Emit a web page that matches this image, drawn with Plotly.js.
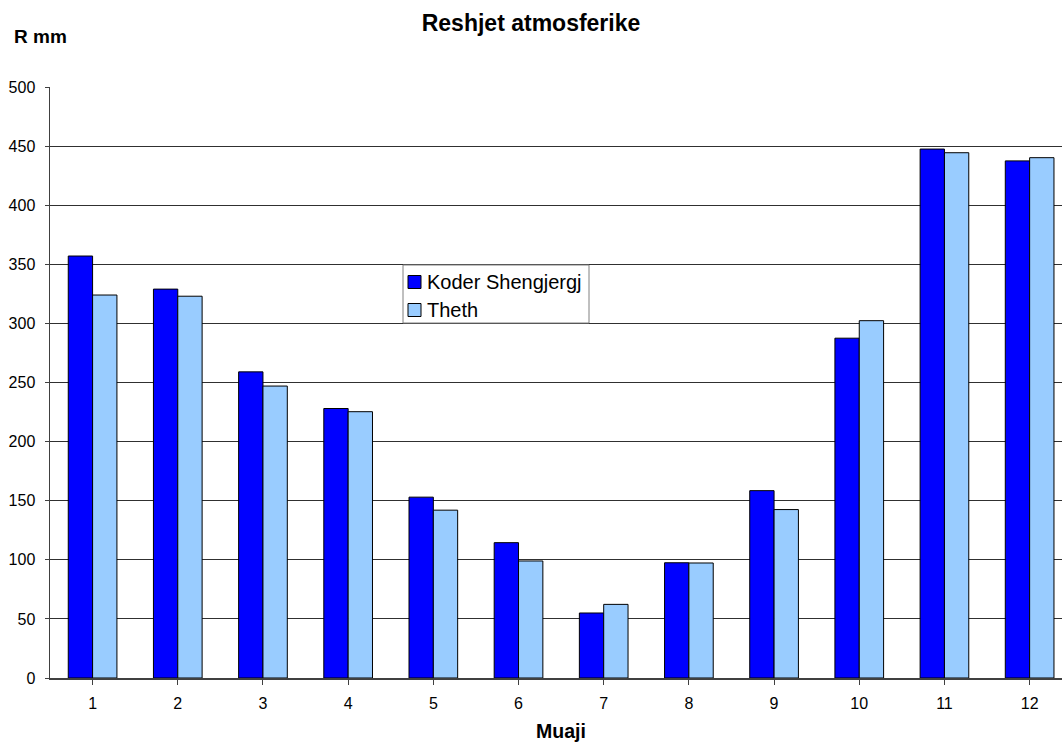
<!DOCTYPE html>
<html>
<head>
<meta charset="utf-8">
<script src="https://cdn.plot.ly/plotly-3.0.1.min.js"></script>
<style>html,body{margin:0;padding:0;background:#fff;}#chart{width:1062px;height:742px;}</style>
</head>
<body>
<div id="chart"></div>
<script>
var months = [1, 2, 3, 4, 5, 6, 7, 8, 9, 10, 11, 12];
var monthLabels = ["1","2","3","4","5","6","7","8","9","10","11","12"];
var koderShengjergj = [357, 329, 259, 228, 153, 114.5, 55, 97.5, 158.5, 287.5, 447.5, 437.5];
var theth = [324, 323, 247, 225.3, 142, 99, 62.3, 97.3, 142.5, 302.3, 444.4, 440.2];
var seriesNames = ["Koder Shengjergj", "Theth"];
var seriesColors = ['#0000FF', '#99CCFF'];

var traces = [
  {type:'bar', x: months, y: koderShengjergj, name: seriesNames[0],
   marker:{color:seriesColors[0], line:{color:'#000000', width:1}}},
  {type:'bar', x: months, y: theth, name: seriesNames[1],
   marker:{color:seriesColors[1], line:{color:'#000000', width:1}}}
];

var font = {family:'"Liberation Sans", Arial, sans-serif', color:'#000'};

// plot area in pixels: x 50..1062 (continues past edge), y 87..678
function px(x){ return (x-50)/1012; }
function py(y){ return (678-y)/591; }

var shapes = [
  {type:'rect', xref:'paper', yref:'paper', x0:px(403), x1:px(589), y0:py(323), y1:py(265),
   fillcolor:'#fff', line:{color:'#808080', width:1}, layer:'above'},
  {type:'rect', xref:'paper', yref:'paper', x0:px(408), x1:px(421), y0:py(288.5), y1:py(275.5),
   fillcolor:seriesColors[0], line:{color:'#000', width:1}, layer:'above'},
  {type:'rect', xref:'paper', yref:'paper', x0:px(408), x1:px(421), y0:py(316.5), y1:py(303.5),
   fillcolor:seriesColors[1], line:{color:'#000', width:1}, layer:'above'}
];

var layout = {
  width:1062, height:742,
  margin:{l:50, r:0, t:87, b:64, pad:0},
  paper_bgcolor:'#fff', plot_bgcolor:'#fff',
  font: Object.assign({size:16}, font),
  barmode:'group', bargap:0.4286, bargroupgap:0,
  showlegend:false,
  title:{text:'<b>Reshjet atmosferike</b>', xref:'container', x:0.5, xanchor:'center',
    yref:'container', y:1-23/742, yanchor:'middle', font:Object.assign({size:23}, font)},
  xaxis:{
    range:[0.5, 12.38], tickmode:'array', tickvals: months, ticktext: monthLabels,
    tickson:'boundaries', ticks:'outside', ticklen:5, tickcolor:'#404040',
    showline:true, linecolor:'#404040', linewidth:1.5, showgrid:false, zeroline:false,
    tickfont:Object.assign({size:16}, font), fixedrange:true, ticklabelstandoff:5
  },
  yaxis:{
    range:[0, 500], dtick:50, ticks:'outside', ticklen:4, tickcolor:'#404040',
    showline:true, linecolor:'#404040', linewidth:1.5,
    showgrid:true, gridcolor:'#303030', gridwidth:1, zeroline:false,
    tickfont:Object.assign({size:16}, font), ticklabelstandoff:6
  },
  shapes: shapes,
  annotations:[
    {text:'<b>R mm</b>', xref:'paper', yref:'paper', x:px(12), y:py(36),
     xanchor:'left', yanchor:'middle', showarrow:false, font:Object.assign({size:19}, font)},
    {text:'<b>Muaji</b>', xref:'paper', yref:'paper', x:px(561), y:py(731),
     xanchor:'center', yanchor:'middle', showarrow:false, font:Object.assign({size:19.5}, font)},
    {text:seriesNames[0], xref:'paper', yref:'paper', x:px(425), y:py(282),
     xanchor:'left', yanchor:'middle', showarrow:false, font:Object.assign({size:20}, font)},
    {text:seriesNames[1], xref:'paper', yref:'paper', x:px(425), y:py(310),
     xanchor:'left', yanchor:'middle', showarrow:false, font:Object.assign({size:20}, font)}
  ]
};

Plotly.newPlot('chart', traces, layout, {displayModeBar:false, staticPlot:true});
</script>
</body>
</html>
